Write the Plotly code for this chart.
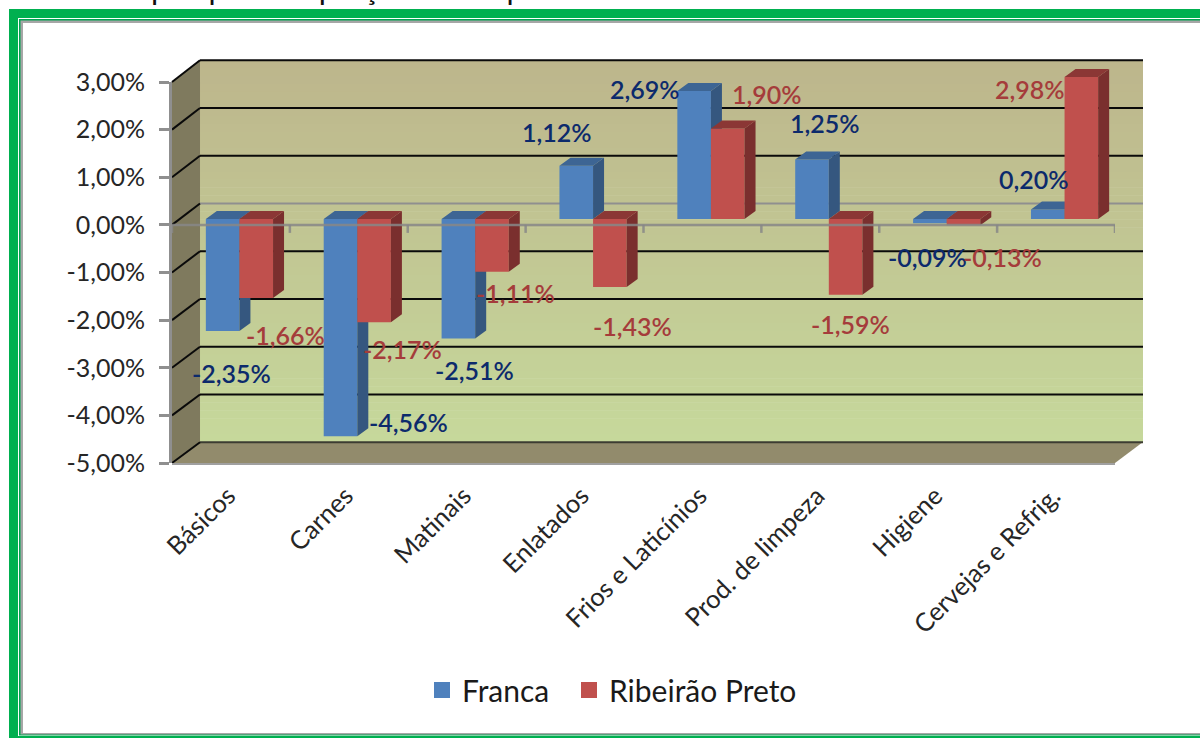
import plotly.graph_objects as go

categories = ["Básicos", "Carnes", "Matinais", "Enlatados", "Frios e Laticínios",
              "Prod. de limpeza", "Higiene", "Cervejas e Refrig."]
franca = [-2.35, -4.56, -2.51, 1.12, 2.69, 1.25, -0.09, 0.20]
ribeirao = [-1.66, -2.17, -1.11, -1.43, 1.90, -1.59, -0.13, 2.98]
y_ticks = [3, 2, 1, 0, -1, -2, -3, -4, -5]
y_labels = ["3,00%", "2,00%", "1,00%", "0,00%", "-1,00%", "-2,00%", "-3,00%", "-4,00%", "-5,00%"]
title_text = "pesquisa de preços nos Supermercados de Franca e Ribeirão Preto"

# label offsets (px) from bar end
franca_off = [(9, -42), (68, 14), (16, -31), (-19, 34), (-49, 2), (13, 36), (-2, -34), (-14, 30)]
ribeirao_off = [(29, -37), (28, -27), (24, -21), (23, -39), (39, 35), (5, -29), (39, -32), (-51, -12)]

W, H = 1200, 738
FONT = "Lato"
PX_X = (1115 - 172) / 8      # px per category
PX_Y = (463 - 82) / 8        # px per percent
BAR_W = 33.6 / PX_X
DX, DY = 11 / PX_X, 8 / PX_Y


def px(v): return v / W
def py(v): return 1 - v / H


def lerp(a, b, t): return tuple(round(a[i] + (b[i] - a[i]) * t) for i in range(3))


shapes = []


def rect(x0, y0, x1, y1, color):
    shapes.append(dict(type="rect", xref="paper", yref="paper", x0=px(x0), x1=px(x1), y0=py(y0), y1=py(y1),
                       fillcolor=color, line_width=0, layer="below"))


def poly(points, color):
    d = "M" + "L".join(f"{px(a):.5f},{py(b):.5f}" for a, b in points) + "Z"
    shapes.append(dict(type="path", xref="paper", yref="paper", path=d, fillcolor=color, line_width=0, layer="below"))


def seg(x0, y0, x1, y1, color, width):
    shapes.append(dict(type="line", xref="paper", yref="paper", x0=px(x0), x1=px(x1), y0=py(y0), y1=py(y1),
                       line=dict(color=color, width=width), layer="below"))


# frame
rect(9, 9, 1210, 745, "#00b050")
rect(18, 18, 1210, 736, "#ffffff")
rect(19, 19, 1210, 735.5, "#00a550")
rect(20.5, 20.5, 1210, 734.5, "#a6a6a6")
rect(23, 23, 1210, 733, "#ffffff")

# back wall (vertical gradient)
top, bot = (189, 182, 140), (198, 216, 155)
n = 48
for i in range(n):
    t = i / (n - 1)
    c = lerp(top, bot, t)
    rect(200, 60 + i * 382 / n, 1143, 60 + (i + 1) * 382 / n + 0.5, f"rgb{c}")
poly([(172, 82), (200, 60), (200, 442), (172, 463)], "#7f7a5e")
poly([(172, 463), (200, 442), (1143, 442), (1115, 463)], "#928b6c")

# grid on the walls
for k in y_ticks:
    fy = 224.9 - k * PX_Y
    by = 203.5 - k * 47.75
    if k == 0:
        seg(200, by, 1143, by, "#8f8f8f", 2)
    else:
        seg(200, by, 1143, by, "#0a0a0a" if k != -5 else "#3c3c32", 2)
    seg(172, fy, 200, by, "#0a0a0a", 2)
seg(172, 464, 1115, 464, "#a0a0a0", 2)


def faces(values, centers):
    side_x, side_y, top_x, top_y = [], [], [], []
    for c, v in zip(centers, values):
        xl, xr = c - BAR_W / 2, c + BAR_W / 2
        hi, lo = max(v, 0), min(v, 0)
        side_x += [xr, xr, xr + DX, xr + DX, xr, None]
        side_y += [lo, hi, hi + DY, lo + DY, lo, None]
        top_x += [xl, xr, xr + DX, xl + DX, xl, None]
        top_y += [hi, hi, hi + DY, hi + DY, hi, None]
    return side_x, side_y, top_x, top_y


idx = list(range(len(categories)))
fig = go.Figure()
series = [("Franca", franca, -BAR_W / 2, "#4f81bd", "#35577f", "#3d6594", "x", "y"),
          ("Ribeirão Preto", ribeirao, BAR_W / 2, "#c0504d", "#7a2f2e", "#8b3735", "x2", "y2")]
for name, vals, off, front, side, topc, xa, ya in series:
    centers = [i + off for i in idx]
    sx, sy, tx, ty = faces(vals, centers)
    fig.add_trace(go.Bar(x=centers, y=vals, width=BAR_W, marker=dict(color=front, line_width=0),
                         xaxis=xa, yaxis=ya, showlegend=False, name=name))
    for fx, fy, col in ((sx, sy, side), (tx, ty, topc)):
        fig.add_trace(go.Scatter(x=fx, y=fy, mode="lines", fill="toself", fillcolor=col, line=dict(width=0),
                                 xaxis=xa, yaxis=ya, showlegend=False, hoverinfo="skip"))

# zero axis with tick marks on top of the bars
tick_x, tick_y = [], []
for i in range(len(categories) + 1):
    tick_x += [i - 0.5, i - 0.5, None]
    tick_y += [0, -8 / PX_Y, None]
zc = "rgba(135,135,135,0.85)"
fig.add_trace(go.Scatter(x=[-0.5, 7.5], y=[0, 0], mode="lines", line=dict(color=zc, width=2.5),
                         xaxis="x3", yaxis="y3", showlegend=False, hoverinfo="skip"))
fig.add_trace(go.Scatter(x=tick_x, y=tick_y, mode="lines", line=dict(color=zc, width=2.5),
                         xaxis="x3", yaxis="y3", showlegend=False, hoverinfo="skip"))

# legend entries
for name, col, leg in (("Franca", "#4f81bd", "legend"), ("Ribeirão Preto", "#c0504d", "legend2")):
    fig.add_trace(go.Scatter(x=[None], y=[None], mode="markers", name=name, xaxis="x3", yaxis="y3", legend=leg,
                             showlegend=True, marker=dict(symbol="square", size=16, color=col)))

annotations = []
for vals, offs, off, col, xa, ya in ((franca, franca_off, -BAR_W / 2, "#0c2a6c", "x", "y"),
                                     (ribeirao, ribeirao_off, BAR_W / 2, "#a53c3b", "x2", "y2")):
    for i, (v, (ox, oy)) in enumerate(zip(vals, offs)):
        annotations.append(dict(x=i + off, y=v, xref=xa, yref=ya, xshift=ox, yshift=oy,
                                text=f"{v:.2f}".replace(".", ",") + "%", showarrow=False,
                                font=dict(family=FONT, size=25, color=col, weight=600)))
annotations.append(dict(x=px(599), y=py(9), xref="paper", yref="paper", xanchor="center", yanchor="bottom",
                        text=title_text, showarrow=False, font=dict(family=FONT, size=31, color="#111111")))

# bar axes: same scale as the front axis, shifted into the depth of the box
bar_top, bar_bot = 219 - 4 * PX_Y, 219 + 5.5 * PX_Y
bar_axis_y = dict(range=[-5.5, 4], domain=[py(bar_bot), py(bar_top)], visible=False, fixedrange=True)
bar_axis_x = dict(range=[-0.5, 7.5], domain=[px(180.5), px(1123.5)], visible=False, fixedrange=True)

legend_base = dict(orientation="h", y=py(690), xanchor="left", yanchor="middle",
                   font=dict(family=FONT, size=30, color="#1a1a1a"), bgcolor="rgba(0,0,0,0)", itemsizing="trace")

fig.update_layout(
    width=W, height=H, margin=dict(l=0, r=0, t=0, b=0), autosize=False,
    paper_bgcolor="#ffffff", plot_bgcolor="rgba(0,0,0,0)",
    shapes=shapes, annotations=annotations,
    xaxis=dict(bar_axis_x, anchor="y"), yaxis=dict(bar_axis_y, anchor="x"),
    xaxis2=dict(bar_axis_x, anchor="y2"), yaxis2=dict(bar_axis_y, anchor="x2"),
    xaxis3=dict(range=[-0.5, 7.5], domain=[px(172), px(1115)], anchor="y3", tickmode="array", tickvals=idx,
                ticktext=categories, tickangle=-45, ticks="", showgrid=False, zeroline=False, showline=False,
                ticklabelstandoff=12, ticklabelshift=-3,
                tickfont=dict(family=FONT, size=25.5, color="#262626"), automargin=False, fixedrange=True),
    yaxis3=dict(range=[-5, 3], domain=[py(463), py(82)], anchor="x3", tickmode="array", tickvals=y_ticks,
                ticktext=y_labels, ticks="outside", ticklen=10, tickwidth=2.5, tickcolor="#8f8f8f",
                showline=True, linecolor="#8f8f8f", linewidth=3, showgrid=False, zeroline=False,
                ticklabelstandoff=9,
                tickfont=dict(family=FONT, size=25, color="#262626"), automargin=False, fixedrange=True),
    legend=dict(legend_base, x=px(422)),
    legend2=dict(legend_base, x=px(569)),
    font=dict(family=FONT),
    showlegend=True,
)
fig.write_html("out.html", config=dict(displayModeBar=False),
               post_script="document.body.style.margin='0';document.documentElement.style.overflow='hidden';")
